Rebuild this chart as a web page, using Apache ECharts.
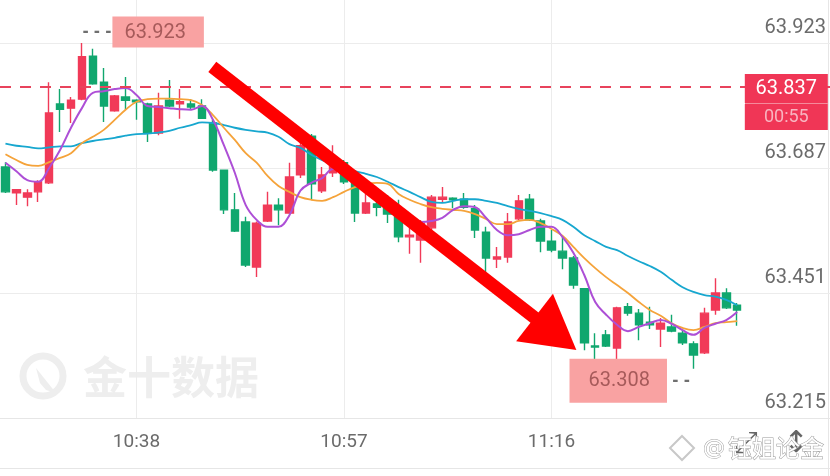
<!DOCTYPE html>
<html><head><meta charset="utf-8">
<script src="https://cdn.jsdelivr.net/npm/echarts@6/dist/echarts.min.js"></script>
<style>html,body{margin:0;padding:0;background:#fff}#c{width:830px;height:476px}</style>
</head><body><div id="c"></div>
<script>
// ---- categories (1-minute bars; the tail is empty space on the right of the chart) ----
const times = [
 '10:26','10:27','10:28','10:29','10:30','10:31','10:32','10:33','10:34','10:35',
 '10:36','10:37','10:38','10:39','10:40','10:41','10:42','10:43','10:44','10:45',
 '10:46','10:47','10:48','10:49','10:50','10:51','10:52','10:53','10:54','10:55',
 '10:56','10:57','10:58','10:59','11:00','11:01','11:02','11:03','11:04','11:05',
 '11:06','11:07','11:08','11:09','11:10','11:11','11:12','11:13','11:14','11:15',
 '11:16','11:17','11:18','11:19','11:20','11:21','11:22','11:23','11:24','11:25',
 '11:26','11:27','11:28','11:29','11:30','11:31','11:32','11:33','11:34','11:35',
 '11:36','11:37','11:38','11:39','11:40','11:41'];
const xTickLabels = ['10:38','10:57','11:16'];
const yTickValues = [63.215, 63.451, 63.687, 63.923];

// ---- OHLC ----
const opens = [63.689,63.640,63.632,63.642,63.659,63.808,63.800,63.817,63.898,63.849,
 63.795,63.821,63.815,63.808,63.753,63.815,63.808,63.808,63.804,63.772,
 63.683,63.608,63.585,63.500,63.587,63.617,63.602,63.674,63.747,63.644,
 63.678,63.697,63.661,63.602,63.619,63.621,63.608,63.557,63.551,63.574,
 63.628,63.630,63.628,63.610,63.566,63.515,63.519,63.591,63.628,63.587,
 63.549,63.530,63.517,63.459,63.351,63.372,63.347,63.425,63.413,63.396,
 63.383,63.387,63.375,63.355,63.338,63.419,63.451,63.428];
const closes = [63.642,63.646,63.640,63.661,63.791,63.798,63.815,63.897,63.846,63.804,
 63.823,63.815,63.812,63.753,63.804,63.804,63.812,63.802,63.781,63.683,
 63.608,63.568,63.504,63.583,63.617,63.608,63.670,63.729,63.657,63.674,
 63.702,63.661,63.602,63.621,63.613,63.600,63.557,63.560,63.583,63.632,
 63.632,63.627,63.613,63.570,63.517,63.519,63.585,63.625,63.589,63.549,
 63.532,63.517,63.466,63.357,63.349,63.351,63.423,63.413,63.391,63.391,
 63.394,63.379,63.357,63.334,63.413,63.451,63.423,63.419];
const highs = [63.698,63.647,63.647,63.664,63.849,63.836,63.821,63.923,63.912,63.876,
 63.825,63.859,63.817,63.810,63.829,63.853,63.836,63.817,63.817,63.778,
 63.684,63.640,63.595,63.586,63.642,63.630,63.697,63.744,63.751,63.689,
 63.730,63.702,63.674,63.642,63.632,63.636,63.627,63.574,63.589,63.636,
 63.651,63.632,63.640,63.617,63.576,63.538,63.602,63.636,63.638,63.591,
 63.570,63.557,63.521,63.460,63.375,63.381,63.425,63.432,63.421,63.425,
 63.404,63.410,63.381,63.360,63.423,63.479,63.460,63.432];
const lows = [63.640,63.617,63.615,63.623,63.657,63.755,63.772,63.815,63.844,63.774,
 63.793,63.797,63.778,63.736,63.749,63.802,63.780,63.797,63.780,63.680,
 63.600,63.566,63.500,63.481,63.585,63.579,63.600,63.668,63.627,63.640,
 63.670,63.657,63.585,63.600,63.596,63.583,63.547,63.525,63.508,63.564,
 63.621,63.611,63.610,63.555,63.485,63.498,63.508,63.589,63.587,63.528,
 63.528,63.496,63.459,63.343,63.321,63.349,63.325,63.408,63.362,63.383,
 63.349,63.377,63.353,63.308,63.336,63.410,63.421,63.389];

// ---- moving averages ----
const maPurple = [63.697,63.681,63.664,63.661,63.687,63.721,63.763,63.800,63.829,63.832,
 63.836,63.838,63.825,63.804,63.802,63.800,63.798,63.797,63.804,63.778,
 63.730,63.678,63.617,63.589,63.576,63.576,63.598,63.644,63.659,63.668,
 63.685,63.683,63.661,63.651,63.640,63.619,63.600,63.591,63.585,63.587,
 63.593,63.608,63.615,63.613,63.593,63.570,63.560,63.562,63.570,63.576,
 63.576,63.557,63.527,63.485,63.434,63.410,63.391,63.379,63.387,63.394,
 63.400,63.393,63.381,63.372,63.385,63.393,63.400,63.415];
const maOrange = [63.713,63.702,63.693,63.691,63.698,63.706,63.715,63.734,63.746,63.759,
 63.778,63.797,63.812,63.817,63.818,63.818,63.817,63.815,63.806,63.787,
 63.763,63.740,63.715,63.697,63.672,63.653,63.642,63.632,63.627,63.625,
 63.632,63.642,63.651,63.657,63.659,63.657,63.638,63.627,63.619,63.613,
 63.610,63.608,63.606,63.600,63.591,63.581,63.581,63.587,63.589,63.583,
 63.572,63.559,63.538,63.517,63.498,63.481,63.466,63.451,63.434,63.419,
 63.408,63.394,63.385,63.381,63.387,63.394,63.396,63.398];
const maCyan = [63.733,63.729,63.727,63.724,63.726,63.728,63.728,63.734,63.738,63.741,
 63.744,63.748,63.751,63.752,63.754,63.757,63.763,63.768,63.773,63.772,
 63.768,63.763,63.759,63.756,63.754,63.746,63.732,63.725,63.712,63.702,
 63.695,63.689,63.681,63.676,63.670,63.661,63.651,63.642,63.632,63.623,
 63.621,63.625,63.628,63.628,63.625,63.621,63.615,63.610,63.606,63.602,
 63.596,63.589,63.576,63.560,63.549,63.538,63.532,63.521,63.511,63.502,
 63.491,63.476,63.462,63.453,63.447,63.444,63.438,63.428];

// ---- annotations ----
const lastPrice = 63.837;
const countdown = '00:55';
const arrowFrom = [18.94, 63.878];   // [bar index, price]
const arrowTo = [50.36, 63.374];

const UP = '#f13a58', DOWN = '#10a76e';
const candleData = opens.map((o, i) => [o, closes[i], lows[i], highs[i]]);
let hiIdx = 0, loIdx = 0;
highs.forEach((v, i) => { if (v > highs[hiIdx]) hiIdx = i; });
lows.forEach((v, i) => { if (v < lows[loIdx]) loIdx = i; });
const showTick = (idx, val) => xTickLabels.indexOf(val) >= 0;

const chart = echarts.init(document.getElementById('c'), null, {renderer: 'canvas'});
const option = {
  animation: false,
  backgroundColor: '#ffffff',
  textStyle: {fontFamily: 'Roboto'},
  grid: {left: -1.875, right: -0.325, top: 0, bottom: 58, containLabel: false},
  xAxis: [{
    type: 'category', data: times, boundaryGap: true,
    axisLine: {show: true, lineStyle: {color: '#e6e6e6', width: 1}},
    axisTick: {show: false},
    axisLabel: {interval: showTick, color: '#6b6b6b', fontSize: 19, margin: 15, fontFamily: 'Roboto'},
    splitLine: {show: true, interval: showTick, alignWithLabel: true, lineStyle: {color: '#ececec', width: 1}}
  }, {
    type: 'value', min: -0.5, max: times.length - 0.5, show: false
  }],
  yAxis: [{
    type: 'value', position: 'right', min: 63.215, max: 64.0042, scale: true,
    axisLine: {show: false},
    axisTick: {show: false, customValues: yTickValues},
    axisLabel: {inside: true, customValues: yTickValues, margin: 4, color: '#6b6b6b', fontSize: 20,
      verticalAlign: 'bottom', padding: [0, 0, 5, 0], fontFamily: 'Roboto',
      formatter: v => v.toFixed(3)},
    splitLine: {show: true, lineStyle: {color: '#ececec', width: 1}}
  }],
  series: [{
    type: 'candlestick', name: 'K', data: candleData, barWidth: 8,
    itemStyle: {color: UP, color0: DOWN, borderColor: UP, borderColor0: DOWN, borderWidth: 1.4},
    emphasis: {disabled: true}, silent: true,
    markLine: {
      silent: true, symbol: ['none', 'none'],
      data: [{yAxis: lastPrice}],
      lineStyle: {color: '#e8435c', width: 2, type: [11, 9]},
      label: {show: false}, emphasis: {disabled: true}
    },
    markPoint: {
      silent: true, symbol: 'circle', symbolSize: 1,
      itemStyle: {color: 'rgba(0,0,0,0)'},
      data: [
        {coord: [times[hiIdx], highs[hiIdx]], label: {show: true, position: 'right', distance: 0, offset: [0, -11],
          formatter: '{d|- - - -}{t|' + highs[hiIdx].toFixed(3) + '}',
          rich: {
            d: {fontSize: 15, fontWeight: 'bold', color: '#6f6f6f', width: 30, verticalAlign: 'middle', fontFamily: 'DejaVu Sans'},
            t: {fontSize: 20, color: '#a65a5a', backgroundColor: '#f9a2a2', padding: [6, 18, 5, 12], verticalAlign: 'middle', fontFamily: 'Roboto'}
          }}},
        {coord: [times[loIdx], lows[loIdx]], label: {show: true, position: 'left', distance: 3, offset: [0, 12],
          formatter: '{t|' + lows[loIdx].toFixed(3) + '}{d| - - -}',
          rich: {
            d: {fontSize: 15, fontWeight: 'bold', color: '#6f6f6f', width: 23, verticalAlign: 'middle', fontFamily: 'DejaVu Sans'},
            t: {fontSize: 20, color: '#a65a5a', backgroundColor: '#f9a2a2', padding: [12, 17, 12, 19], verticalAlign: 'middle', fontFamily: 'Roboto'}
          }}}
      ]
    }
  }, {
    type: 'line', name: 'MA30', data: maCyan, showSymbol: false, smooth: 0.4,
    lineStyle: {color: '#17a7cf', width: 1.8}, silent: true, emphasis: {disabled: true}
  }, {
    type: 'line', name: 'MA10', data: maOrange, showSymbol: false, smooth: 0.4,
    lineStyle: {color: '#f5a33a', width: 1.8}, silent: true, emphasis: {disabled: true}
  }, {
    type: 'line', name: 'MA5', data: maPurple, showSymbol: false, smooth: 0.4,
    lineStyle: {color: '#ad4fd6', width: 2}, silent: true, emphasis: {disabled: true}
  }, {
    type: 'line', name: 'annot', xAxisIndex: 1, yAxisIndex: 0, data: [], z: 10, silent: true,
    markLine: {
      silent: true, symbol: ['none', 'triangle'], symbolSize: [60, 53],
      data: [[{coord: arrowFrom}, {coord: arrowTo}]],
      lineStyle: {color: '#ff0000', width: 13, type: 'solid', opacity: 1, cap: 'butt'},
      label: {show: false}, emphasis: {disabled: true}
    },
    markPoint: {
      silent: true,
      data: [
        {coord: [71.5, lastPrice], symbol: 'rect', symbolSize: [83, 29], itemStyle: {color: '#f03656'},
          label: {show: true, position: 'inside', formatter: lastPrice.toFixed(3), color: '#ffffff', fontSize: 20, fontFamily: 'Roboto'}},
        {coord: [71.5, lastPrice], symbol: 'rect', symbolSize: [83, 26], symbolOffset: [0, 28.5], itemStyle: {color: '#f03656'},
          label: {show: true, position: 'inside', formatter: countdown, color: '#f8b4c0', fontSize: 18, fontFamily: 'Roboto'}}
      ]
    }
  }],
  graphic: [
    {type: 'line', shape: {x1: 0, y1: 468.5, x2: 830, y2: 468.5}, style: {stroke: '#e6e6e6', lineWidth: 1}, silent: true},
    {type: 'line', shape: {x1: 828.5, y1: 0, x2: 828.5, y2: 476}, style: {stroke: '#e6e6e6', lineWidth: 1}, silent: true},
    {type: 'line', shape: {x1: 745, y1: 103.5, x2: 828, y2: 103.5}, style: {stroke: '#f58a9b', lineWidth: 1}, silent: true, z: 100},
    // 金十数据 watermark
    {type: 'circle', shape: {cx: 43, cy: 376, r: 20}, style: {fill: 'none', stroke: '#eeeeee', lineWidth: 7}, silent: true, z: -1},
    {type: 'polygon', shape: {points: [[36, 368], [56, 393], [46, 390], [40, 383]]}, style: {fill: '#eeeeee'}, silent: true, z: -1},
    {type: 'text', x: 83, y: 377, style: {text: '金十数据', fill: '#eeeeee', font: 'bold 44px "Noto Sans CJK SC"', textVerticalAlign: 'middle'}, silent: true, z: -1},
    // bottom-right tool icons
    {type: 'text', x: 746, y: 444, style: {text: '⤢', fill: '#666', font: '30px "DejaVu Sans"', textAlign: 'center', textVerticalAlign: 'middle'}, silent: true},
    {type: 'text', x: 796, y: 444, style: {text: '↕', fill: '#666', font: '30px "DejaVu Sans"', textAlign: 'center', textVerticalAlign: 'middle'}, silent: true},
    // weibo watermark
    {type: 'polygon', shape: {points: [[682, 436], [694, 448], [682, 460], [670, 448]]}, style: {fill: 'none', stroke: '#c8c8c8', lineWidth: 2}, silent: true, z: 20},
    {type: 'text', x: 703, y: 449, style: {text: '@', fill: '#ffffff', stroke: '#a0a0a0', lineWidth: 1, font: '22px "DejaVu Sans"', textVerticalAlign: 'middle'}, silent: true, z: 20},
    {type: 'text', x: 728, y: 448, style: {text: '钰姐论金', fill: '#ffffff', stroke: '#999999', lineWidth: 1, font: '24px "Noto Sans CJK SC"', textVerticalAlign: 'middle'}, silent: true, z: 20}
  ]
};
chart.setOption(option);
</script>
</body></html>
